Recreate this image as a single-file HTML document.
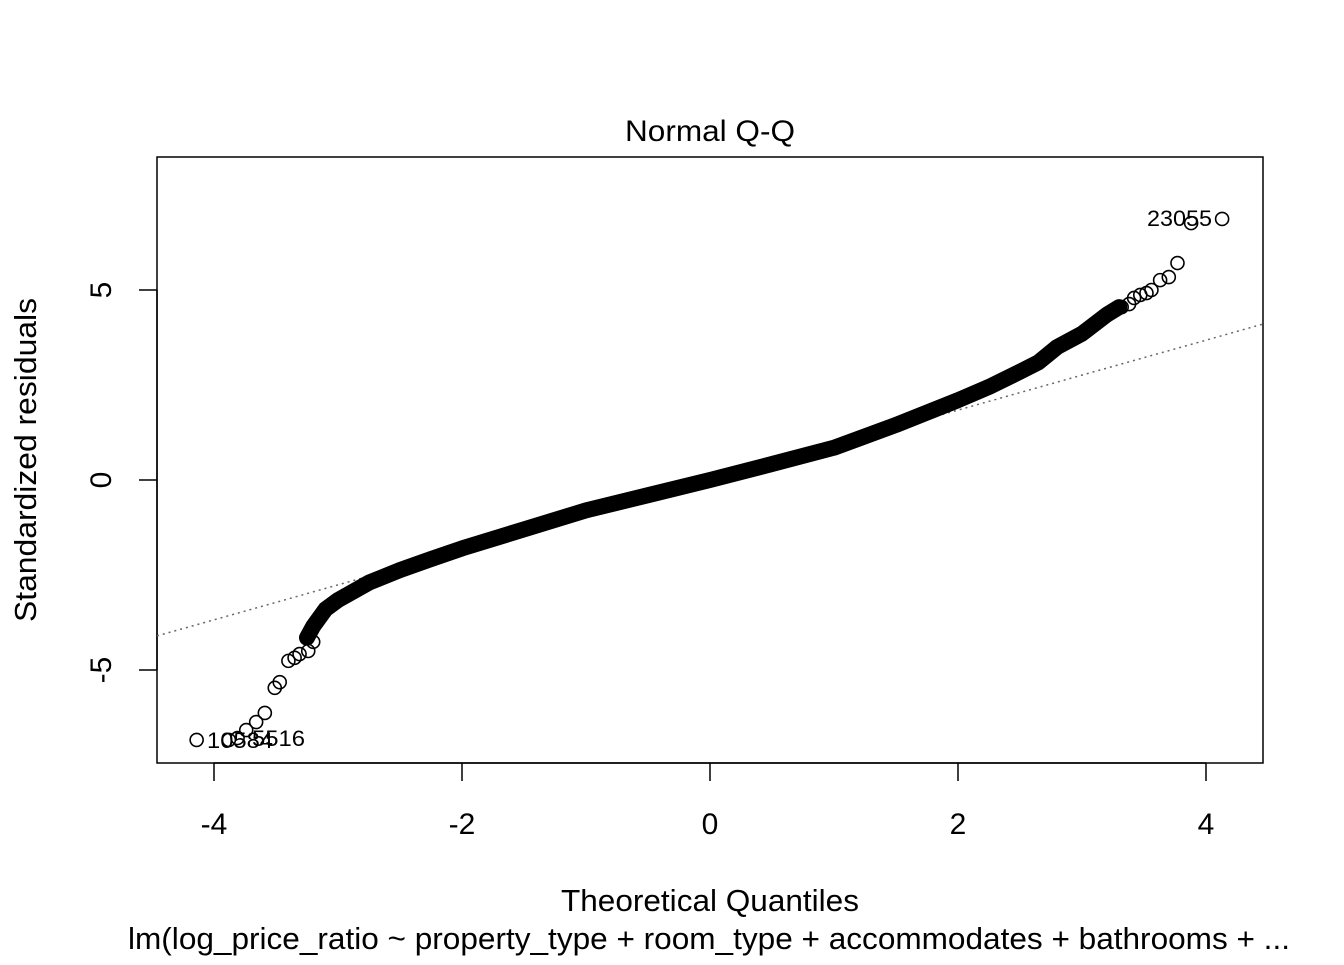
<!DOCTYPE html>
<html><head><meta charset="utf-8"><style>
body{margin:0;background:#fff}
svg text{font-family:"Liberation Sans",Arial,sans-serif;fill:#000}
</style></head><body>
<svg width="1344" height="960" viewBox="0 0 1344 960">
<rect x="0" y="0" width="1344" height="960" fill="#fff"/>
<text x="625" y="141" font-size="30" textLength="170" lengthAdjust="spacingAndGlyphs">Normal Q-Q</text>
<rect x="157" y="157" width="1106" height="606" fill="none" stroke="#000" stroke-width="1.5"/>
<g id="xaxis"></g>
<g id="yaxis"></g>
<line id="refline" stroke="#666" stroke-width="1.5" stroke-dasharray="2,4"/>
<g id="pts"></g>
<text x="561" y="911" font-size="31" textLength="298" lengthAdjust="spacingAndGlyphs">Theoretical Quantiles</text>
<text x="128" y="949" font-size="31" textLength="1162" lengthAdjust="spacingAndGlyphs">lm(log_price_ratio ~ property_type + room_type + accommodates + bathrooms + ...</text>
<text transform="translate(36,622) rotate(-90)" font-size="31" textLength="324" lengthAdjust="spacingAndGlyphs">Standardized residuals</text>
<text x="1147" y="226" font-size="22" textLength="65" lengthAdjust="spacingAndGlyphs">23055</text>
<text x="207" y="748" font-size="22" textLength="66" lengthAdjust="spacingAndGlyphs">10584</text>
<text x="252" y="746" font-size="22" textLength="53" lengthAdjust="spacingAndGlyphs">5516</text>
</svg>
<script>
const xTicks=[-4,-2,0,2,4];
const yTicks=[-5,0,5];
const bodyQ=[-3.25,-3.2,-3.1,-3.0,-2.75,-2.5,-2.25,-2.0,-1.5,-1.0,-0.5,0,0.5,1.0,1.5,2.0,2.25,2.5,2.65,2.8,3.0,3.2,3.3];
const bodyR=[-4.15,-3.85,-3.4,-3.16,-2.7,-2.37,-2.08,-1.8,-1.3,-0.8,-0.4,0,0.42,0.85,1.45,2.1,2.45,2.85,3.1,3.5,3.85,4.35,4.55];
const tailQ=[-4.14,-3.88,-3.81,-3.74,-3.66,-3.59,-3.51,-3.47,-3.4,-3.35,-3.31,-3.24,-3.2,3.27,3.32,3.38,3.42,3.47,3.52,3.56,3.63,3.7,3.77,3.88,4.13];
const tailR=[-6.84,-6.84,-6.79,-6.58,-6.37,-6.13,-5.47,-5.32,-4.76,-4.68,-4.58,-4.5,-4.26,4.5,4.55,4.63,4.79,4.87,4.92,5.0,5.26,5.34,5.71,6.76,6.87];
const refSlope=0.92, refIntercept=0;
const X=v=>710+v*124, Y=v=>480-v*38;
const NS='http://www.w3.org/2000/svg';
function mk(t,a,p){const e=document.createElementNS(NS,t);for(const k in a)e.setAttribute(k,a[k]);p.appendChild(e);return e;}
const xa=document.getElementById('xaxis'),ya=document.getElementById('yaxis');
mk('line',{x1:X(-4),x2:X(4),y1:763,y2:763,stroke:'#000','stroke-width':1.5},xa);
xTicks.forEach(t=>{mk('line',{x1:X(t),x2:X(t),y1:763,y2:781,stroke:'#000','stroke-width':1.5},xa);
const tx=mk('text',{x:X(t),y:834,'font-size':30,'text-anchor':'middle'},xa);tx.textContent=t;

});
mk('line',{x1:157,x2:157,y1:Y(-5),y2:Y(5),stroke:'#000','stroke-width':1.5},ya);
yTicks.forEach(t=>{mk('line',{x1:139,x2:157,y1:Y(t),y2:Y(t),stroke:'#000','stroke-width':1.5},ya);
const tx=mk('text',{transform:`translate(111,${Y(t)}) rotate(-90)`,'font-size':30,'text-anchor':'middle'},ya);tx.textContent=t;

});
const rl=document.getElementById('refline');
rl.setAttribute('x1',157);rl.setAttribute('x2',1263);
rl.setAttribute('y1',Y(refIntercept+refSlope*((157-710)/124)));
rl.setAttribute('y2',Y(refIntercept+refSlope*((1263-710)/124)));
const g=document.getElementById('pts');
const band=mk('polyline',{points:bodyQ.map((q,i)=>X(q)+','+Y(bodyR[i])).join(' '),fill:'none',stroke:'#000','stroke-width':16,'stroke-linejoin':'round','stroke-linecap':'round'},g);


tailQ.forEach((q,i)=>{const c=mk('circle',{cx:X(q),cy:Y(tailR[i]),r:6.5,fill:'none',stroke:'#000','stroke-width':1.6},g);

});
</script>
</body></html>
